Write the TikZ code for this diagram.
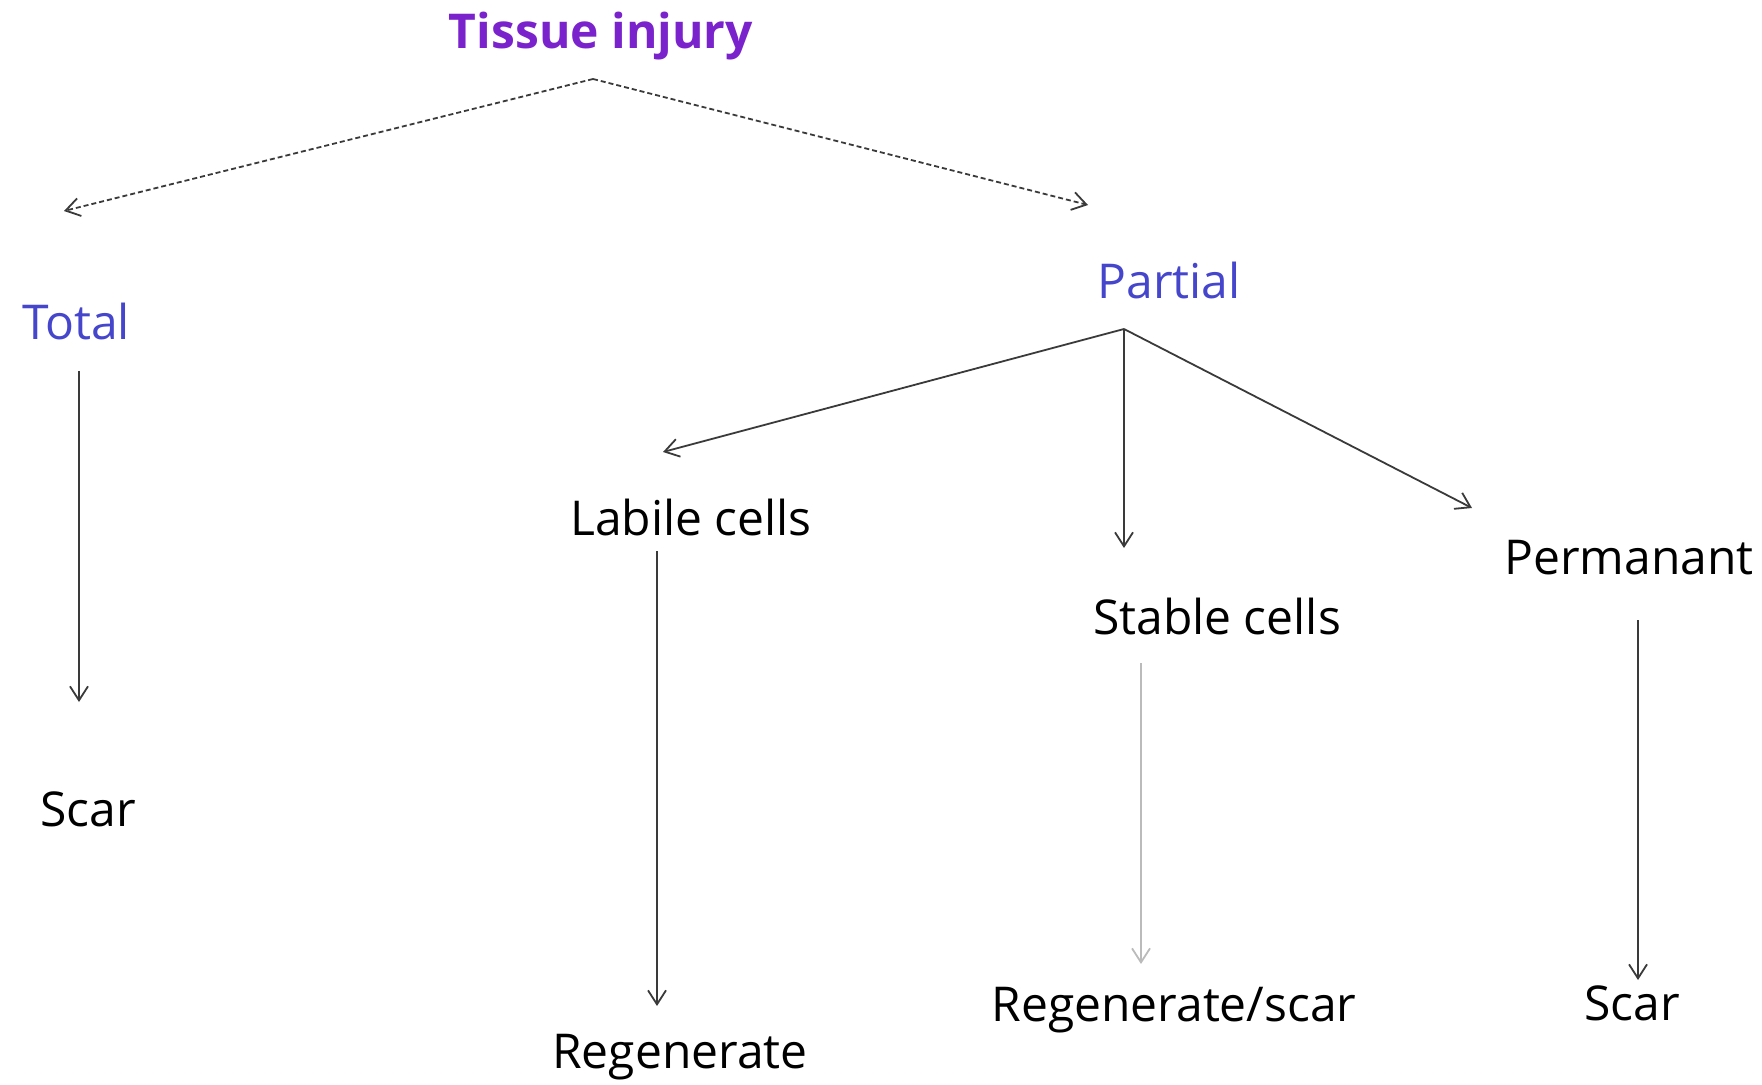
\documentclass[tikz,border=0pt]{standalone}
\usepackage{fontspec}
\setmainfont{Open Sans}
\usetikzlibrary{arrows.meta}

\definecolor{injurypurple}{HTML}{7A22CC}
\definecolor{kindblue}{HTML}{4646CC}
\definecolor{arrowgray}{HTML}{3A3A3A}
\definecolor{faintgray}{HTML}{BBBBBB}

\begin{document}
\begin{tikzpicture}[
    x=0.5pt, y=-0.5pt,
    lbl/.style={font=\fontsize{24}{28}\selectfont, inner sep=0pt},
    toplbl/.style={lbl, font=\fontsize{24}{28}\selectfont\bfseries, text=injurypurple},
    kindlbl/.style={lbl, text=kindblue},
    arrow/.style={-{Straight Barb[length=7pt, width=9pt]}, line width=0.9pt, draw=arrowgray},
    dasharrow/.style={arrow, dash pattern=on 2.5pt off 1.5pt}
]
\useasboundingbox (0,0) rectangle (1762,1085);

% Labels
\node[toplbl] (injury) at (601,36) {Tissue injury};
\node[kindlbl] (total) at (76,322) {Total};
\node[kindlbl] (partial) at (1169,281) {Partial};
\node[lbl] (scarT) at (88,809) {Scar};
\node[lbl] (labile) at (691,518) {Labile cells};
\node[lbl] (stable) at (1217,616) {Stable cells};
\node[lbl] (perm) at (1629,558) {Permanant};
\node[lbl] (regen) at (680,1057) {Regenerate};
\node[lbl] (regscar) at (1174,1010) {Regenerate/scar};
\node[lbl] (scarP) at (1632,1003) {Scar};

% Arrow ends
\coordinate (injuryfork) at (593,79);
\coordinate (totalin) at (64,211);
\coordinate (partialin) at (1088,205);
\coordinate (totalout) at (79,371);
\coordinate (scarTin) at (79,702);
\coordinate (partialfork) at (1124,329);
\coordinate (labilein) at (663,452);
\coordinate (stablein) at (1124,548);
\coordinate (permin) at (1472,508);
\coordinate (labileout) at (657,551);
\coordinate (regenin) at (657,1006);
\coordinate (stableout) at (1141,663);
\coordinate (regscarin) at (1141,964);
\coordinate (permout) at (1638,620);
\coordinate (scarPin) at (1638,980);

% Arrows
\draw[dasharrow] (injuryfork) -- (totalin);
\draw[dasharrow] (injuryfork) -- (partialin);
\draw[arrow] (totalout) -- (scarTin);
\draw[arrow] (partialfork) -- (labilein);
\draw[arrow] (partialfork) -- (stablein);
\draw[arrow] (partialfork) -- (permin);
\draw[arrow] (labileout) -- (regenin);
\draw[arrow, draw=faintgray] (stableout) -- (regscarin);
\draw[arrow] (permout) -- (scarPin);

\end{tikzpicture}
\end{document}
